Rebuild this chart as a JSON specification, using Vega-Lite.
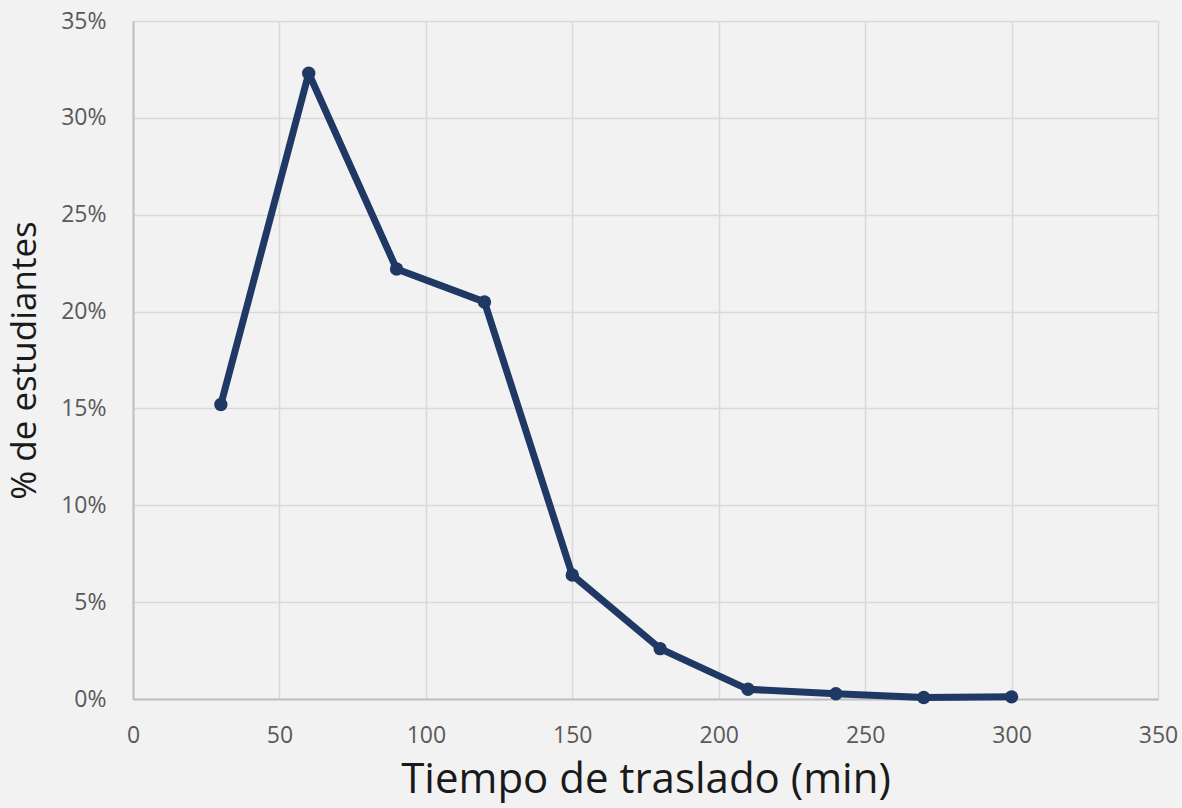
{
  "$schema": "https://vega.github.io/schema/vega-lite/v6.json",
  "width": 1025,
  "height": 678,
  "autosize": {"type": "none"},
  "padding": {"left": 133, "top": 21, "right": 24, "bottom": 109},
  "background": "#f2f2f2",
  "config": {
    "view": {"stroke": null},
    "font": "Open Sans"
  },
  "data": {
    "values": [
      {"tiempo": 30, "pct": 0.152},
      {"tiempo": 60, "pct": 0.323},
      {"tiempo": 90, "pct": 0.222},
      {"tiempo": 120, "pct": 0.205},
      {"tiempo": 150, "pct": 0.064},
      {"tiempo": 180, "pct": 0.026},
      {"tiempo": 210, "pct": 0.005},
      {"tiempo": 240, "pct": 0.0027},
      {"tiempo": 270, "pct": 0.0008},
      {"tiempo": 300, "pct": 0.0011}
    ]
  },
  "encoding": {
    "x": {
      "field": "tiempo",
      "type": "quantitative",
      "scale": {"domain": [0, 350], "nice": false},
      "axis": {
        "values": [0, 50, 100, 150, 200, 250, 300, 350],
        "title": "Tiempo de traslado (min)",
        "titleFontSize": 42,
        "titleFontWeight": "normal",
        "titleColor": "#1a1a1a",
        "titlePadding": 12,
        "labelFontSize": 23,
        "labelColor": "#595959",
        "labelPadding": 25,
        "labelFlush": false,
        "ticks": false,
        "domainColor": "#bfbfbf",
        "domainWidth": 2,
        "gridColor": "#d9d9d9",
        "gridWidth": 1.5
      }
    },
    "y": {
      "field": "pct",
      "type": "quantitative",
      "scale": {"domain": [0, 0.35], "nice": false},
      "axis": {
        "values": [0, 0.05, 0.1, 0.15, 0.2, 0.25, 0.3, 0.35],
        "format": ".0%",
        "title": "% de estudiantes",
        "titleFontSize": 35,
        "titleFontWeight": "normal",
        "titleColor": "#1a1a1a",
        "titlePadding": 18,
        "labelFontSize": 23,
        "labelColor": "#595959",
        "labelPadding": 27,
        "labelFlush": false,
        "ticks": false,
        "domainColor": "#bfbfbf",
        "domainWidth": 2,
        "gridColor": "#d9d9d9",
        "gridWidth": 1.5
      }
    }
  },
  "layer": [
    {
      "mark": {"type": "line", "color": "#1f3864", "strokeWidth": 7, "strokeJoin": "round"}
    },
    {
      "mark": {"type": "point", "filled": true, "color": "#1f3864", "size": 180, "opacity": 1}
    }
  ]
}
